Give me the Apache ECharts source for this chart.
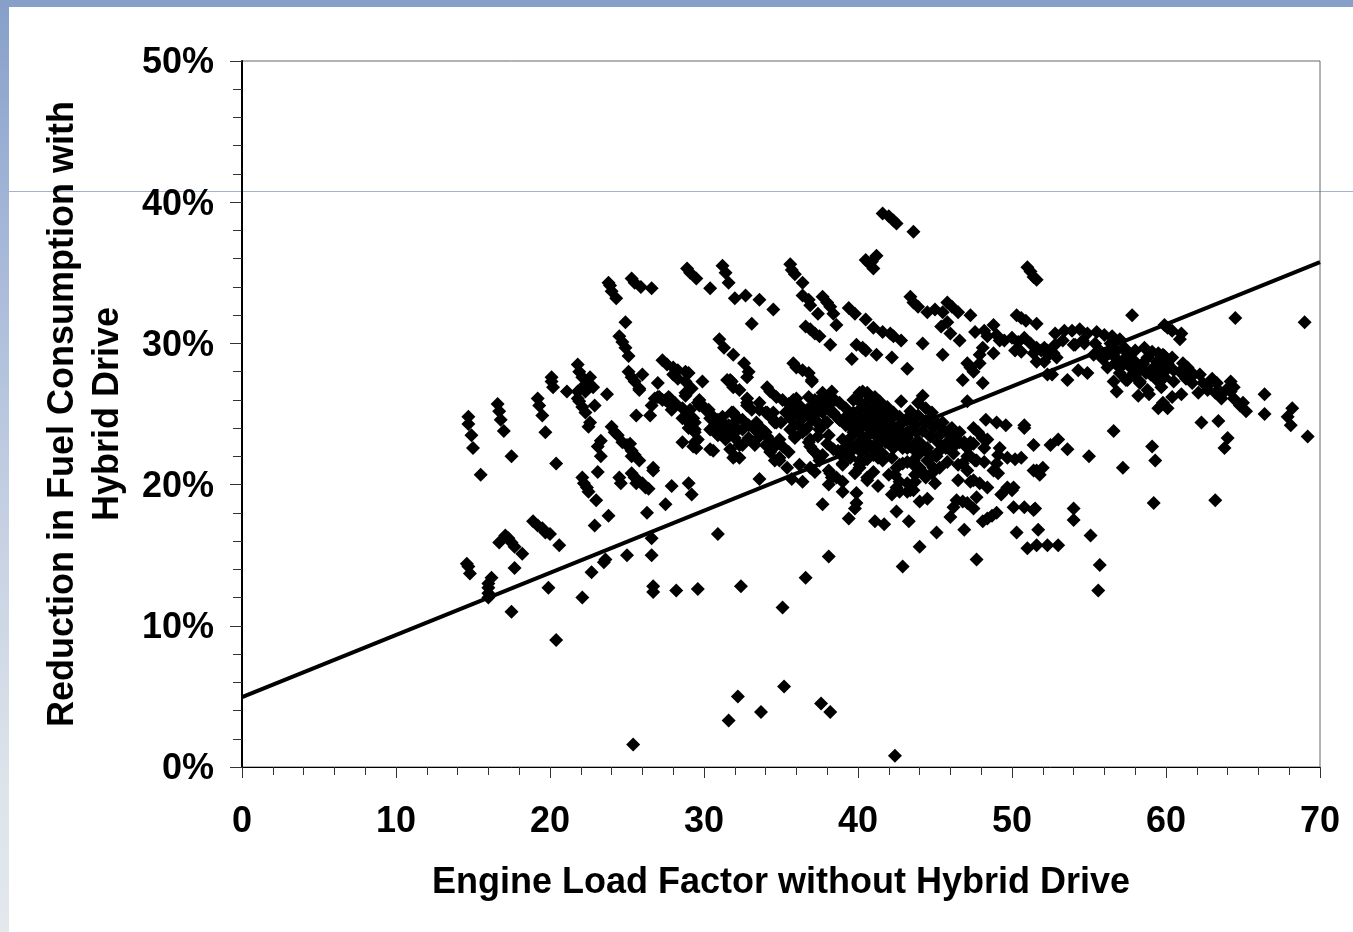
<!DOCTYPE html>
<html><head><meta charset="utf-8">
<style>
html,body{margin:0;padding:0;width:1353px;height:932px;overflow:hidden;background:#fff}
#topBand{position:absolute;left:0;top:0;width:1353px;height:7px;background:#86a0ca}
#leftBand{position:absolute;left:0;top:0;width:9px;height:932px;background:linear-gradient(to bottom,#86a0ca 0%,#a5b7d8 25%,#c4d0e2 55%,#dde4ea 85%,#e2e8ec 100%)}
#hairline{position:absolute;left:9px;top:191px;width:1344px;height:1px;background:#a3b3cd}
#chart{position:absolute;left:0;top:0;width:1353px;height:932px}
</style>
<script src="https://cdn.jsdelivr.net/npm/echarts@6/dist/echarts.min.js"></script>
</head><body>
<div id="topBand"></div><div id="leftBand"></div><div id="hairline"></div>
<div id="chart"></div>
<script>
const xAxisTitle = 'Engine Load Factor without Hybrid Drive';
const yAxisTitle = 'Reduction in Fuel Consumption with\nHybrid Drive';
const trendLine = [[0,4.95],[70,35.75]];

const lowLoadLower = [[14.7,24.8],[14.7,24.3],[14.9,23.5],[15.0,22.6],[15.5,20.7],[16.6,25.7],[16.7,25.2],[16.8,24.6],[17.0,23.8],[17.5,22.0],[19.3,25.6],[19.5,24.9],[19.7,23.7],[20.4,21.5],[22.9,25.6],[21.9,25.9],[22.1,25.5],[22.3,25.1],[22.6,24.4],[22.5,24.1],[25.6,24.9],[26.6,25.6],[24.0,24.1],[24.2,23.7],[24.4,23.5],[24.7,23.0],[25.0,22.8],[25.2,22.9],[25.3,22.4],[25.5,22.1],[25.8,21.7],[25.3,22.0],[23.3,23.1],[23.1,22.7],[23.3,22.0],[26.7,21.0],[23.1,20.9],[28.6,23.0],[24.5,20.5],[24.6,20.1],[25.3,20.8],[25.5,20.5],[25.7,20.3],[26.0,20.1],[26.2,19.8],[26.4,19.7],[25.6,20.1],[22.1,20.5],[22.2,20.1],[22.4,19.8],[22.5,19.5],[23.0,18.9],[27.9,19.9],[29.0,20.1],[29.2,19.3],[27.5,18.6],[26.3,18.0],[23.8,17.8],[22.9,17.1],[30.9,16.5],[18.9,17.4],[19.2,17.1],[19.5,16.9],[19.7,16.6],[20.0,16.5],[20.6,15.7],[17.1,16.4],[17.3,16.2],[17.5,15.9],[17.7,15.6],[16.7,15.9],[18.2,15.1],[17.7,14.1],[26.6,16.2],[26.6,15.0],[25.0,15.0],[23.6,14.7],[23.5,14.5],[22.7,13.8],[14.6,14.4],[14.7,14.2],[14.8,13.7],[16.2,13.4],[16.0,13.0],[16.0,12.7],[16.0,12.3],[16.0,12.0],[19.9,12.7],[22.1,12.0],[26.7,12.8],[26.7,12.4],[28.2,12.5],[29.6,12.6],[32.4,12.8]];

const outliers = [[17.5,11.0],[20.4,9.0],[25.4,1.6],[31.6,3.3],[32.2,5.0],[33.7,3.9],[35.2,5.7],[35.1,11.3],[36.6,13.4],[38.1,14.9],[37.6,4.5],[38.2,3.9],[42.4,0.8],[42.9,14.2]];

const lowLoadUpper = [[23.8,34.3],[23.9,34.1],[24.0,33.7],[24.3,33.2],[25.3,34.6],[25.5,34.3],[25.9,34.0],[26.6,33.9],[28.9,35.3],[29.1,35.0],[29.5,34.6],[30.4,33.9],[31.2,35.5],[31.4,35.0],[31.6,34.3],[32.0,33.2],[24.9,31.5],[24.5,30.5],[24.7,30.1],[24.9,29.7],[25.1,29.1],[25.1,28.0],[25.3,27.6],[25.5,27.3],[26.0,27.8],[25.8,26.7],[27.3,28.8],[27.6,28.5],[28.0,28.3],[28.3,28.1],[28.8,28.0],[28.0,27.8],[29.0,27.9],[28.3,27.5],[28.8,27.3],[27.0,27.2],[29.9,27.3],[29.1,26.8],[28.8,26.5],[31.0,30.3],[31.3,29.7],[31.9,29.2],[31.8,27.3],[31.9,26.9],[31.5,27.4],[21.8,28.5],[21.9,28.0],[22.1,27.6],[20.1,27.3],[20.2,26.9],[20.1,27.6],[21.1,26.6],[21.8,26.6],[22.1,26.9],[22.6,27.6],[22.5,27.2],[22.8,26.9],[22.3,26.6],[21.8,26.1],[23.7,26.4],[19.2,26.1],[27.0,26.2],[27.7,26.2],[29.7,26.0]];

const upperStreaks = [[41.6,39.2],[42.0,39.0],[42.3,38.7],[42.5,38.5],[43.6,37.9],[41.2,36.2],[40.5,35.9],[40.7,35.7],[41.0,35.3],[40.9,35.8],[35.6,35.6],[35.7,35.2],[35.9,34.9],[36.4,34.3],[36.4,33.4],[36.8,33.1],[36.9,32.7],[37.4,32.1],[37.7,33.3],[38.0,32.9],[38.2,32.6],[38.4,32.1],[38.6,31.3],[32.7,33.4],[33.6,33.1],[34.5,32.4],[33.1,31.4],[39.4,32.5],[39.8,32.1],[40.5,31.7],[41.0,31.1],[41.6,30.8],[42.1,30.7],[42.3,30.5],[42.8,30.2],[44.2,30.0],[43.4,33.3],[43.6,32.9],[43.9,32.6],[44.5,32.2],[45.0,32.4],[45.5,32.2],[45.8,32.9],[46.1,32.6],[46.5,32.2],[47.3,32.0],[45.8,31.5],[45.4,31.2],[46.0,30.7],[46.6,30.2],[45.5,29.2],[43.2,28.2],[42.2,29.0],[41.2,29.2],[39.6,28.9],[39.9,29.9],[40.3,29.7],[40.5,29.5],[38.2,29.9],[36.6,31.2],[36.9,31.0],[37.2,30.7],[37.5,30.5],[35.8,28.6],[36.0,28.3],[36.4,28.1],[36.8,27.9],[37.0,27.4],[32.6,28.6],[32.9,28.0],[32.8,27.6],[47.6,30.8],[48.2,30.9],[48.8,31.3],[48.4,30.5],[49.0,30.6],[48.1,29.7],[47.9,29.2],[47.9,28.6],[47.1,28.6],[47.3,28.3],[47.5,28.0],[48.8,29.3],[46.8,27.4],[48.1,27.2],[50.3,32.0],[50.6,31.8],[50.9,31.6],[51.6,31.4],[51.0,35.4],[51.2,35.1],[51.4,34.7],[51.6,34.5],[49.2,30.2],[49.5,30.2],[50.0,30.4],[50.4,30.1],[50.8,30.4],[51.2,30.0],[50.2,29.5],[50.6,29.4],[51.6,29.7],[51.9,29.5],[52.4,29.2],[52.1,28.7]];

const highLoad = [[52.8,30.7],[53.4,30.9],[53.9,30.9],[54.4,31.0],[54.9,30.7],[55.5,30.8],[56.0,30.6],[56.5,30.5],[57.0,30.3],[53.3,30.2],[54.0,29.9],[54.6,30.2],[55.4,30.0],[55.7,29.5],[56.4,30.0],[56.8,29.5],[57.3,29.7],[56.7,29.0],[57.5,29.0],[58.0,29.5],[58.6,29.7],[59.1,29.4],[59.5,29.3],[59.9,29.1],[60.4,29.0],[58.8,29.0],[59.4,28.7],[60.1,28.6],[58.5,28.5],[59.2,28.3],[60.5,28.1],[59.0,27.8],[60.5,27.3],[59.9,27.6],[57.2,28.8],[57.7,28.3],[57.0,28.3],[57.9,27.8],[57.0,27.9],[58.3,27.3],[56.2,28.3],[56.6,27.3],[56.8,26.6],[58.2,26.3],[58.9,26.4],[59.7,26.9],[59.4,27.4],[61.4,28.3],[60.9,28.0],[61.8,27.8],[62.2,27.8],[61.7,27.2],[62.4,27.2],[63.0,27.5],[63.3,27.2],[62.7,26.7],[63.2,26.5],[63.6,26.1],[64.2,27.3],[64.4,26.9],[64.2,26.6],[64.4,26.1],[63.5,26.6],[65.0,25.8],[65.2,25.2],[64.8,25.6],[66.4,26.4],[66.4,25.0],[68.2,25.4],[67.9,24.8],[68.1,24.2],[69.2,23.4],[57.8,32.0],[64.5,31.8],[69.0,31.5],[59.9,31.3],[60.1,31.1],[60.4,30.9],[61.0,30.7],[60.9,30.3],[53.6,27.4],[52.3,27.8],[52.6,27.8],[54.3,28.1],[54.9,27.9],[52.8,29.9],[52.9,29.0],[52.7,29.3],[52.3,29.5],[59.5,25.4],[60.1,25.4],[59.8,25.8],[60.4,26.2],[61.0,26.4],[62.3,24.4],[63.4,24.5],[64.0,23.3],[63.8,22.6],[56.6,23.8],[59.1,22.7],[52.5,22.8],[53.0,23.2],[53.6,22.5],[55.0,22.0],[57.2,21.2],[59.3,21.7],[59.2,18.7],[63.2,18.9],[55.7,14.3],[55.6,12.5],[55.1,16.4],[54.0,18.3],[54.0,17.5],[55.3,29.2],[55.9,28.9],[56.3,29.3],[58.0,28.6],[58.7,27.9],[59.5,28.0],[60.0,28.1],[58.3,28.1],[57.4,27.4],[61.3,27.5],[62.8,27.1],[63.9,26.7],[62.1,26.5]];

const highLoadExtra = [[56.5,30.4],[52.1,29.7],[54.1,29.9],[54.7,30.0],[55.6,29.3],[56.2,29.3],[57.5,29.3],[56.7,28.6],[57.3,28.6],[57.9,28.8],[59.8,29.2],[58.5,28.6],[59.8,28.3],[57.9,27.9],[57.5,27.4],[58.3,27.2],[58.8,26.7],[51.6,28.7],[51.4,29.3],[61.1,28.6],[61.5,27.9]];

const midRight = [[51.6,21.0],[52.0,21.2],[51.8,20.7],[51.4,18.2],[50.8,18.4],[51.7,16.8],[51.6,15.7],[52.3,15.7],[53.0,15.7],[50.3,16.6],[51.0,15.5],[50.0,19.6],[50.6,21.9],[50.8,24.2],[33.6,20.4],[37.7,18.6],[39.4,17.6],[39.9,19.4],[39.9,18.7],[39.8,18.3],[41.1,17.4],[41.7,17.2],[42.5,18.1],[43.3,17.4],[45.1,16.6],[44.0,15.6],[46.9,16.8],[47.7,14.7],[48.3,24.6],[49.0,24.4],[49.6,24.2],[50.8,24.0],[51.4,22.8],[42.8,25.9],[44.2,26.3],[43.9,25.8],[44.4,25.4],[47.1,25.9],[51.4,21.0],[50.1,18.4],[51.5,18.3],[49.7,19.8],[50.1,19.8],[49.3,19.3],[47.7,19.1],[47.5,18.3],[46.4,18.9],[46.2,18.4],[46.0,17.7],[46.8,18.8],[47.1,18.7],[49.0,18.0],[48.7,17.8],[48.4,17.6],[48.1,17.4],[44.5,19.0],[44.0,18.8],[42.2,19.3],[42.7,19.5],[43.2,19.5],[43.6,19.6],[41.3,19.9],[40.6,20.3],[41.0,20.9],[39.8,20.8],[40.1,21.4],[39.0,20.2],[39.0,19.5],[38.1,20.0],[38.2,20.8],[38.6,20.5],[36.4,20.2],[35.7,20.4],[36.2,21.4],[37.2,20.9],[36.9,21.2],[35.4,21.2],[34.9,21.7],[39.0,21.5],[37.5,21.7],[35.5,22.3],[32.3,21.9],[47.5,24.0],[47.8,23.7],[48.1,23.3],[48.4,23.2],[48.2,22.6],[49.2,22.6],[49.1,22.1],[49.7,21.9],[50.2,21.8],[49.0,21.5],[48.8,21.0],[49.1,20.8],[47.1,21.0],[46.5,20.3],[47.5,20.3],[47.9,20.1],[48.4,19.8],[48.2,21.6],[47.7,21.7],[47.3,22.0],[46.8,21.5],[46.2,22.2],[45.8,21.6],[45.3,21.2],[45.0,20.1],[44.8,20.8],[44.4,20.5],[44.0,21.2],[43.7,20.7],[43.2,20.1],[43.2,21.6],[42.7,21.4],[42.4,20.7],[42.0,20.7],[42.7,20.2],[43.6,21.7],[44.5,21.7],[45.1,22.0],[45.8,22.7],[45.3,22.4],[46.4,22.9],[46.6,23.7],[46.0,23.9],[45.5,24.4],[47.3,23.0],[41.3,21.9],[41.6,21.7]];

const midLeft = [[27.3,26.0],[27.7,25.8],[28.1,25.8],[28.6,25.4],[29.1,25.3],[29.3,24.7],[29.7,25.6],[30.1,25.3],[30.4,24.7],[30.7,24.2],[31.2,24.0],[31.7,23.7],[32.0,23.3],[28.6,24.7],[29.0,24.0],[29.4,23.7],[29.6,23.2],[29.5,22.6],[29.3,22.7],[30.4,22.5],[30.9,23.9],[31.4,23.2],[31.7,22.5],[31.9,21.9],[32.3,22.8],[31.2,24.8],[31.6,24.2],[31.9,25.1],[32.2,24.7],[33.1,25.3],[33.3,23.9],[33.6,23.4],[34.0,22.8],[34.3,22.3],[34.6,21.7],[26.8,26.1],[26.5,24.9],[25.8,26.8],[32.8,26.1],[32.8,25.6],[32.3,26.7],[32.5,24.6],[32.9,24.2],[32.5,23.9],[32.9,23.3],[32.5,22.8],[33.3,22.8],[33.6,25.3],[34.0,25.1],[34.3,24.8],[34.6,24.4],[33.8,23.9],[34.1,23.4],[34.4,23.0],[34.7,22.8],[34.9,23.2],[35.1,22.7],[35.6,23.9],[35.9,23.4],[36.4,23.7],[36.7,24.0],[35.3,25.1],[35.6,24.7],[35.9,25.1],[36.4,24.7],[36.8,23.0],[37.1,22.4],[37.4,23.4],[37.7,22.1],[38.0,22.9],[38.1,23.5]];

const midLeftExtra = [[27.1,26.2],[27.5,26.0],[27.8,26.1],[28.0,25.6],[27.9,25.3],[28.8,24.8],[29.0,24.4],[29.4,24.4],[29.4,23.9],[29.4,23.0],[30.6,22.4],[29.6,25.8],[29.9,25.6],[30.3,25.3],[30.6,24.8],[30.9,24.6],[31.2,24.4],[30.4,23.9],[30.9,23.5],[31.5,23.4],[31.8,24.2],[31.8,25.1],[32.1,24.8],[32.8,25.8],[31.7,27.4],[32.2,23.9],[33.4,24.4],[32.0,22.0],[33.6,25.8],[29.2,26.8],[28.8,26.3],[26.7,21.2]];

const denseCore = [[34.1,26.9],[34.3,26.6],[34.7,26.2],[35.1,26.0],[36.0,26.1],[36.8,26.2],[37.7,26.5],[38.3,26.6],[38.0,26.1],[39.7,26.0],[40.3,26.6],[40.6,26.5],[41.1,26.2],[41.4,25.9],[41.9,25.5],[42.3,25.1],[42.7,24.8],[35.5,25.7],[36.0,25.3],[36.6,25.0],[37.0,24.6],[37.5,24.2],[38.0,24.4],[37.2,26.0],[37.7,25.6],[38.2,25.2],[38.6,24.8],[39.1,24.4],[39.6,24.0],[40.1,23.6],[38.8,25.8],[39.2,25.4],[39.7,25.1],[40.2,24.7],[40.7,24.3],[41.2,23.9],[41.7,23.5],[42.2,23.1],[40.0,26.0],[40.4,25.6],[40.8,25.2],[41.2,24.9],[41.7,24.5],[42.2,24.1],[42.7,23.7],[43.2,23.3],[43.7,22.9],[40.8,26.1],[41.3,25.6],[41.8,25.2],[42.3,24.8],[39.5,23.3],[40.0,22.9],[40.5,22.5],[41.0,22.1],[40.3,24.3],[40.8,23.9],[41.3,23.4],[41.8,23.0],[42.3,22.6],[39.0,23.2],[39.6,22.7],[40.2,22.3],[40.6,21.8],[43.2,24.6],[43.7,24.2],[44.2,23.8],[44.7,23.4],[45.2,23.0],[45.7,22.6],[44.7,24.7],[45.2,24.3],[45.6,23.8],[46.1,23.4],[46.6,23.0],[47.1,22.6],[43.4,25.2],[43.9,24.9],[44.4,24.5],[40.5,23.1],[41.2,22.7],[43.2,22.6],[43.8,22.3],[44.2,22.7],[44.6,22.2],[43.5,23.8],[42.8,24.3],[38.4,22.5],[38.9,22.1],[39.5,21.9],[38.8,24.6],[39.9,24.4],[40.6,24.9],[41.6,24.0],[42.1,23.6],[42.8,22.9],[35.0,24.4],[36.1,24.3],[37.3,25.2],[38.5,26.0],[37.0,25.5],[36.2,25.6],[39.3,24.9]];

const denseCoreExtra = [[35.8,26.0],[36.1,25.5],[37.7,26.2],[37.3,25.5],[38.0,25.6],[38.4,25.1],[38.8,24.6],[39.2,24.2],[40.1,26.5],[40.8,26.2],[41.2,25.6],[41.6,25.3],[42.1,24.8],[40.1,25.3],[40.6,24.8],[39.7,24.4],[39.7,23.7],[40.1,23.9],[41.0,24.4],[41.6,24.4],[42.3,24.1],[40.6,23.4],[41.2,23.4],[41.9,23.4],[42.5,23.4],[40.1,22.9],[40.9,22.7],[41.6,22.2],[42.2,22.7],[34.1,25.1],[34.5,25.1],[34.7,24.4],[34.0,23.7],[34.7,22.9],[34.9,21.9],[35.8,24.1],[36.6,23.9],[35.9,23.3],[36.9,23.2],[35.7,25.1],[36.4,24.8],[36.7,25.3],[37.1,24.8],[37.7,25.1],[37.4,24.4],[37.9,24.4],[37.5,23.9],[36.9,22.7],[37.2,22.3],[37.5,21.9],[38.7,22.4],[39.2,22.7],[39.6,22.4],[40.1,21.7],[39.0,21.4],[40.1,21.2],[40.6,20.5],[38.1,21.0],[38.3,20.5],[37.0,27.3],[42.2,21.9],[44.8,25.1],[44.4,24.4],[44.9,24.0],[45.3,23.5],[45.8,23.0],[46.1,24.0],[46.4,23.0],[46.9,23.0],[47.5,22.9],[47.1,22.0],[47.6,21.7],[46.5,21.4],[45.0,22.1],[44.5,22.6],[44.0,23.0],[43.9,22.1],[44.9,21.2],[44.2,20.9],[43.6,21.4],[42.9,21.5],[42.5,21.2],[43.7,20.2],[43.4,19.6],[42.5,19.8],[47.3,20.2],[42.5,24.0],[42.5,23.0],[43.2,23.7],[43.8,23.7],[43.4,22.7],[42.9,22.6],[43.2,24.7],[43.6,24.4]];

const allPoints = [].concat(lowLoadLower, outliers, lowLoadUpper, upperStreaks, highLoad, highLoadExtra, midRight, midLeft, midLeftExtra, denseCore, denseCoreExtra);

const chart = echarts.init(document.getElementById('chart'), null, {renderer:'canvas'});
const font = 'Liberation Sans';
chart.setOption({
  animation:false,
  backgroundColor:'transparent',
  grid:{left:242,top:61,width:1078,height:706,show:true,borderColor:'#666',borderWidth:1,backgroundColor:'transparent',outerBoundsMode:'none',containLabel:false},
  xAxis:{type:'value',min:0,max:70,interval:10,
    name:xAxisTitle,nameLocation:'middle',nameGap:98,
    nameTextStyle:{fontFamily:font,fontWeight:'bold',fontSize:36,color:'#000'},
    axisLine:{show:true,onZero:false,lineStyle:{color:'#000',width:1}},
    axisTick:{show:true,length:11,lineStyle:{color:'#333',width:1}},
    minorTick:{show:true,splitNumber:5,length:8,lineStyle:{color:'#333',width:1}},
    splitLine:{show:false},minorSplitLine:{show:false},
    axisLabel:{fontFamily:font,fontWeight:'bold',fontSize:36,color:'#000',margin:37,hideOverlap:false}},
  yAxis:{type:'value',min:0,max:50,interval:10,
    name:yAxisTitle,nameLocation:'middle',nameGap:109,nameRotate:90,
    nameTextStyle:{fontFamily:font,fontWeight:'bold',fontSize:36,color:'#000',lineHeight:45,align:'center'},
    axisLine:{show:true,onZero:false,lineStyle:{color:'#000',width:2}},
    axisTick:{show:true,length:12,lineStyle:{color:'#333',width:1}},
    minorTick:{show:true,splitNumber:5,length:9,lineStyle:{color:'#333',width:1}},
    splitLine:{show:false},minorSplitLine:{show:false},
    axisLabel:{margin:28,hideOverlap:false,formatter:'{pct|{value}%}',
      rich:{pct:{fontFamily:font,fontWeight:'bold',fontSize:36,color:'#000',padding:[5,0,0,0]}}}},
  series:[
    {type:'scatter',data:allPoints,symbol:'diamond',symbolSize:14,itemStyle:{color:'#000',opacity:1},silent:true,z:3},
    {type:'line',data:trendLine,symbol:'none',lineStyle:{color:'#000',width:4},silent:true,z:4}
  ]
});
</script>
</body></html>
